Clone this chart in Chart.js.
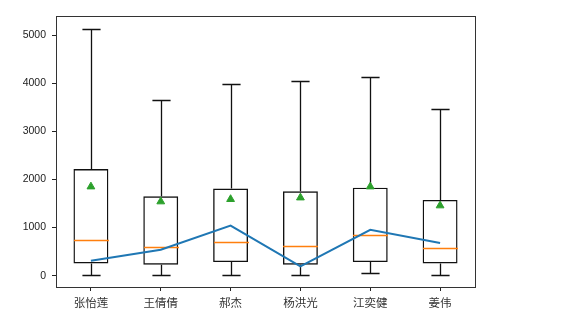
<!DOCTYPE html>
<html>
<head>
<meta charset="utf-8">
<script src="https://cdn.jsdelivr.net/npm/chart.js@4.4.0/dist/chart.umd.min.js"></script>
<style>
  html, body { margin: 0; padding: 0; background: #fff; }
  #box { width: 569px; height: 325px; }
</style>
</head>
<body>
<div id="box"><canvas id="boxChart" width="569" height="325"></canvas></div>
<script>
// sales per person: whiskers, quartiles, medians, means, plus one extra series
const names = ['张怡莲', '王倩倩', '郝杰', '杨洪光', '江奕健', '姜伟'];
const whiskerLow = [21, 21, 21, 21, 48, 21];
const q1 = [255, 228, 284, 228, 284, 255];
const medians = [746, 587, 698, 616, 850, 566];
const q3 = [2218, 1652, 1811, 1756, 1831, 1576];
const whiskerHigh = [5128, 3649, 3981, 4043, 4140, 3469];
const means = [1852, 1541, 1590, 1623, 1852, 1458];
const lineValues = [311, 539, 1043, 193, 954, 678];
const yTicks = [0, 1000, 2000, 3000, 4000, 5000];

const BOX_INDEX = 2;
const crisp = v => Math.round(v) + 0.5;

// whiskers, caps and median lines, drawn right after the boxes so the line stays on top
const boxExtras = {
    id: 'boxExtras',
    afterDatasetDraw(chart, args) {
        if (args.index !== BOX_INDEX) return;
        const ctx = chart.ctx;
        const x = chart.scales.x;
        const y = chart.scales.y;
        const step = x.getPixelForValue(1) - x.getPixelForValue(0);
        const boxHalf = step * 0.25;
        const capHalf = step * 0.13;
        ctx.save();
        ctx.lineWidth = 1.3;
        names.forEach((n, i) => {
            const cx = crisp(x.getPixelForValue(i));
            const top = crisp(y.getPixelForValue(whiskerHigh[i]));
            const bot = crisp(y.getPixelForValue(whiskerLow[i]));
            ctx.strokeStyle = '#111';
            ctx.beginPath();
            ctx.moveTo(cx, y.getPixelForValue(q3[i]));
            ctx.lineTo(cx, top);
            ctx.moveTo(cx, y.getPixelForValue(q1[i]));
            ctx.lineTo(cx, bot);
            ctx.moveTo(cx - capHalf, top);
            ctx.lineTo(cx + capHalf, top);
            ctx.moveTo(cx - capHalf, bot);
            ctx.lineTo(cx + capHalf, bot);
            ctx.stroke();

            ctx.strokeStyle = '#ff7f0e';
            ctx.lineWidth = 1.3;
            ctx.beginPath();
            ctx.moveTo(cx - boxHalf, crisp(y.getPixelForValue(medians[i])));
            ctx.lineTo(cx + boxHalf, crisp(y.getPixelForValue(medians[i])));
            ctx.stroke();
        });
        ctx.restore();
    },
    afterDraw(chart) {
        const a = chart.chartArea;
        const ctx = chart.ctx;
        ctx.save();
        ctx.strokeStyle = '#333';
        ctx.lineWidth = 1;
        ctx.strokeRect(crisp(a.left), crisp(a.top), Math.round(a.right - a.left), Math.round(a.bottom - a.top));
        ctx.restore();
    }
};

new Chart(document.getElementById('boxChart'), {
    type: 'bar',
    data: {
        labels: names,
        datasets: [
            {
                type: 'line',
                data: lineValues,
                borderColor: '#1f77b4',
                borderWidth: 2,
                pointRadius: 0,
                tension: 0,
                fill: false,
                order: 0
            },
            {
                type: 'line',
                data: means,
                showLine: false,
                pointStyle: 'triangle',
                pointRadius: 4.5,
                pointBackgroundColor: '#2ca02c',
                pointBorderColor: '#2ca02c',
                pointBorderWidth: 1,
                order: 1
            },
            {
                data: names.map((n, i) => [q1[i], q3[i]]),
                backgroundColor: 'rgba(0,0,0,0)',
                borderColor: '#111',
                borderWidth: 1.4,
                borderSkipped: false,
                barPercentage: 1,
                categoryPercentage: 0.5,
                order: 2
            }
        ]
    },
    options: {
        responsive: false,
        animation: false,
        layout: { padding: { top: 16, right: 94, left: 0, bottom: 0 } },
        plugins: {
            legend: { display: false },
            tooltip: { enabled: false }
        },
        scales: {
            x: {
                offset: true,
                border: { display: false },
                grid: { drawOnChartArea: false, drawTicks: true, tickLength: 4, color: '#222', offset: false },
                ticks: {
                    color: '#333',
                    padding: 5,
                    font: { family: '"Noto Sans CJK SC"', size: 11.5 }
                },
                afterFit: (scale) => { scale.height = 38; }
            },
            y: {
                min: -235,
                max: 5400,
                border: { display: false },
                grid: { drawOnChartArea: false, drawTicks: true, tickLength: 4, color: '#222' },
                afterBuildTicks: (scale) => { scale.ticks = yTicks.map(v => ({ value: v })); },
                ticks: {
                    color: '#222',
                    padding: 6,
                    callback: (v) => String(v),
                    font: { family: '"Liberation Sans", Arial, sans-serif', size: 10.5 }
                },
                afterFit: (scale) => { scale.width = 56; }
            }
        }
    },
    plugins: [boxExtras]
});
</script>
</body>
</html>
